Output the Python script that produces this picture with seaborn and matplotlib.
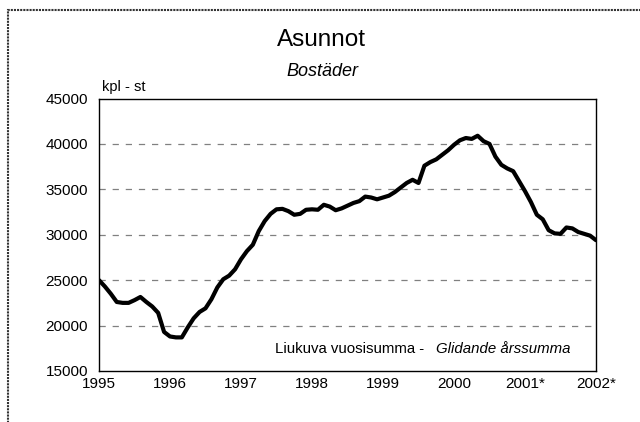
import matplotlib
matplotlib.use("Agg")
import matplotlib.pyplot as plt
import seaborn as sns
import pandas as pd
from matplotlib.patches import Rectangle

# ─────────────────────────── data ────────────────────────────
# monthly moving annual sum, Jan 1995 .. Jan 2002
START_YEAR = 1995
values = [
    25000, 24300, 23500, 22600, 22500, 22500, 22800, 23150, 22600, 22100, 21400, 19300,
    18800, 18700, 18700, 19800, 20800, 21500, 21900, 22900, 24200, 25100, 25500, 26200,
    27300, 28200, 28900, 30400, 31500, 32300, 32800, 32850, 32600, 32200, 32300, 32750,
    32800, 32750, 33300, 33100, 32700, 32900, 33200, 33500, 33700, 34200, 34100, 33900,
    34100, 34300, 34700, 35200, 35700, 36050, 35700, 37600, 38000, 38300, 38800, 39300,
    39900, 40400, 40650, 40550, 40900, 40300, 40000, 38600, 37700, 37300, 37000, 35900,
    34800, 33600, 32200, 31700, 30500, 30150, 30100, 30800, 30700, 30300, 30100, 29900,
    29400,
]
year_ticks  = [1995, 1996, 1997, 1998, 1999, 2000, 2001, 2002]
year_labels = ["1995", "1996", "1997", "1998", "1999", "2000", "2001*", "2002*"]
y_ticks     = [15000, 20000, 25000, 30000, 35000, 40000, 45000]

df = pd.DataFrame({
    "year": [START_YEAR + i / 12 for i in range(len(values))],
    "kpl": values,
})

# ─────────────────────────── style ───────────────────────────
sns.set_style("white")
plt.rcParams["font.family"] = ["Liberation Sans", "DejaVu Sans"]
plt.rcParams["text.color"] = "black"
plt.rcParams["xtick.color"] = "black"
plt.rcParams["ytick.color"] = "black"

fig = plt.figure(figsize=(6.4, 4.22), dpi=100)
ax = fig.add_axes([99 / 640, 51 / 422, 497 / 640, 272.5 / 422])

sns.lineplot(data=df, x="year", y="kpl", color="black", linewidth=3.0, ax=ax)

ax.set_xlim(1995, 2002)
ax.set_ylim(15000, 45000)
ax.set_xticks(year_ticks)
ax.set_xticklabels(year_labels, fontsize=11)
ax.set_yticks(y_ticks)
ax.set_yticklabels([str(v) for v in y_ticks], fontsize=11)
ax.tick_params(axis="x", length=3, direction="in", color="#bbbbbb", labelcolor="black", pad=4)
ax.tick_params(axis="y", length=0, pad=8, labelcolor="black")
ax.set_xlabel("")
ax.set_ylabel("")

for v in y_ticks[1:-1]:
    ax.axhline(v, color="#808080", linewidth=0.9, linestyle=(0, (5, 5.5)), zorder=0)

for side in ax.spines.values():
    side.set_visible(True)
    side.set_color("black")
    side.set_linewidth(1.0)

# ─────────────────────────── texts ───────────────────────────
fig.text(321 / 640, 1 - 40 / 422, "Asunnot", ha="center", va="center", fontsize=17.5)
fig.text(322 / 640, 1 - 71 / 422, "Bostäder", ha="center", va="center",
         fontsize=13, style="italic")
fig.text(102 / 640, 1 - 87 / 422, "kpl - st", ha="left", va="center", fontsize=10.5)
fig.text(275 / 640, 1 - 349 / 422, "Liukuva vuosisumma - ", ha="left", va="center",
         fontsize=10.8)
fig.text(436 / 640, 1 - 349 / 422, "Glidande årssumma", ha="left", va="center",
         fontsize=10.8, style="italic")

# outer frame (cut off at right and bottom in the original)
fig.patches.append(Rectangle((8 / 640, -0.1), 1.2, 1 - 10 / 422 + 0.1,
                             transform=fig.transFigure, fill=False,
                             edgecolor="#333333", linewidth=1.5, linestyle=(0, (1, 0.5))))

fig.savefig("out.png", dpi=100, facecolor="white")
